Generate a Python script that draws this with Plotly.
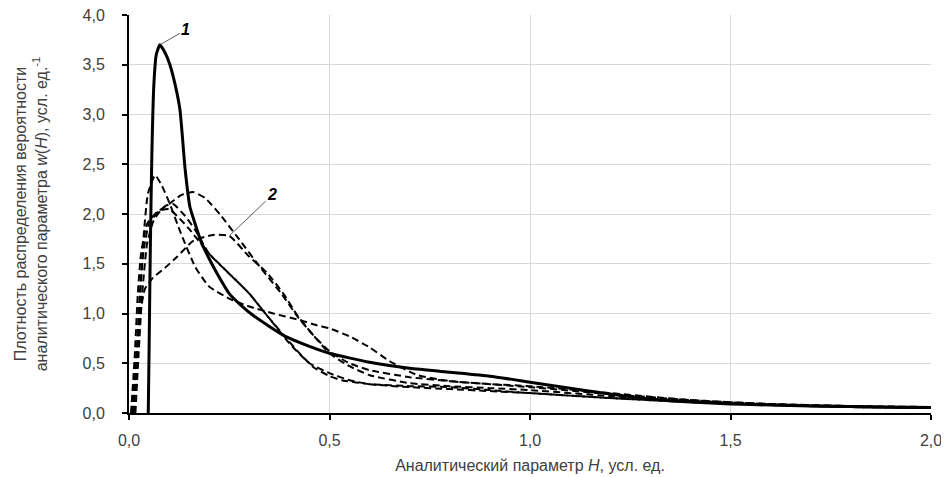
import plotly.graph_objects as go

# Solid curve 1
x1 = [0.048, 0.05, 0.053, 0.057, 0.062, 0.068, 0.077, 0.09, 0.102, 0.115, 0.127, 0.14, 0.152, 0.165, 0.18, 0.2, 0.22, 0.25, 0.28, 0.31, 0.35, 0.39, 0.45, 0.5, 0.6, 0.7, 0.8, 0.9, 1.0, 1.1, 1.2, 1.3, 1.4, 1.5, 1.6, 1.7, 1.8, 1.9, 2.0]
y1 = [0.0, 0.6, 1.6, 2.6, 3.3, 3.6, 3.70, 3.62, 3.5, 3.3, 3.05, 2.45, 2.07, 1.9, 1.72, 1.55, 1.40, 1.2, 1.08, 0.98, 0.87, 0.77, 0.67, 0.6, 0.51, 0.45, 0.41, 0.37, 0.31, 0.25, 0.19, 0.14, 0.11, 0.09, 0.08, 0.07, 0.065, 0.06, 0.055]

# Dashed curves (group 2)
xd1 = [0.012, 0.02, 0.028, 0.037, 0.047, 0.065, 0.08, 0.1, 0.13, 0.165, 0.2, 0.25, 0.3, 0.36, 0.42, 0.47, 0.5, 0.55, 0.6, 0.65, 0.72, 0.8, 0.9, 1.0, 1.2, 1.4, 1.6, 1.8, 2.0]
yd1 = [0.0, 0.55, 1.2, 1.8, 2.2, 2.39, 2.3, 2.12, 1.8, 1.47, 1.27, 1.15, 1.07, 1.0, 0.94, 0.88, 0.85, 0.77, 0.66, 0.52, 0.38, 0.32, 0.29, 0.26, 0.19, 0.13, 0.09, 0.07, 0.05]

xd2 = [0.005, 0.014, 0.022, 0.03, 0.045, 0.07, 0.1, 0.13, 0.16, 0.19, 0.23, 0.27, 0.33, 0.38, 0.42, 0.46, 0.5, 0.55, 0.6, 0.7, 0.8, 0.9, 1.0, 1.2, 1.4, 1.6, 1.8, 2.0]
yd2 = [0.0, 0.55, 1.2, 1.6, 1.9, 2.02, 2.1, 2.19, 2.22, 2.16, 1.98, 1.77, 1.45, 1.2, 0.97, 0.78, 0.62, 0.5, 0.43, 0.36, 0.32, 0.29, 0.27, 0.2, 0.13, 0.09, 0.07, 0.06]

xd3 = [0.008, 0.017, 0.028, 0.04, 0.06, 0.09, 0.12, 0.16, 0.21, 0.25, 0.3, 0.344, 0.385, 0.42, 0.46, 0.5, 0.55, 0.6, 0.7, 0.8, 0.9, 1.0, 1.2, 1.4, 1.6, 1.8, 2.0]
yd3 = [0.0, 0.5, 1.0, 1.25, 1.36, 1.46, 1.57, 1.73, 1.79, 1.78, 1.57, 1.41, 1.2, 0.98, 0.78, 0.6, 0.47, 0.38, 0.3, 0.27, 0.25, 0.23, 0.17, 0.12, 0.08, 0.06, 0.05]

xd4 = [0.016, 0.024, 0.033, 0.045, 0.06, 0.072, 0.09, 0.11, 0.14, 0.165, 0.2, 0.25, 0.3, 0.34, 0.37, 0.4, 0.45, 0.5, 0.55, 0.6, 0.7, 0.8, 0.9, 1.0, 1.2, 1.4, 1.6, 1.8, 2.0]
yd4 = [0.0, 0.6, 1.2, 1.7, 1.92, 2.0, 2.08, 2.1, 1.98, 1.84, 1.6, 1.4, 1.2, 1.0, 0.85, 0.7, 0.5, 0.4, 0.33, 0.29, 0.26, 0.24, 0.22, 0.2, 0.15, 0.11, 0.08, 0.06, 0.05]

xd5 = [0.01, 0.019, 0.027, 0.037, 0.05, 0.075, 0.1, 0.12, 0.15, 0.2, 0.25, 0.3, 0.34, 0.39, 0.43, 0.46, 0.5, 0.53, 0.6, 0.7, 0.8, 0.9, 1.0, 1.2, 1.4, 1.6, 1.8, 2.0]
yd5 = [0.0, 0.6, 1.2, 1.65, 1.9, 2.03, 2.05, 1.98, 1.85, 1.6, 1.4, 1.2, 1.0, 0.76, 0.58, 0.46, 0.37, 0.33, 0.29, 0.27, 0.26, 0.23, 0.2, 0.15, 0.11, 0.08, 0.06, 0.05]

dashed = [(xd1, yd1), (xd2, yd2), (xd3, yd3), (xd4, yd4), (xd5, yd5)]

x_ticks = [0.0, 0.5, 1.0, 1.5, 2.0]
y_ticks = [0.0, 0.5, 1.0, 1.5, 2.0, 2.5, 3.0, 3.5, 4.0]

FONT = "Liberation Sans, Arial, sans-serif"
TXT = "#404040"
fig = go.Figure()
for xs, ys in dashed:
    fig.add_trace(go.Scatter(x=xs, y=ys, mode="lines",
                             line=dict(color="black", width=2, dash="7px,4px", shape="spline", smoothing=0.5),
                             showlegend=False, hoverinfo="skip"))
fig.add_trace(go.Scatter(x=x1, y=y1, mode="lines",
                         line=dict(color="black", width=3, shape="spline", smoothing=0.5),
                         showlegend=False, hoverinfo="skip"))

# labels
ipk = y1.index(max(y1))
fig.add_annotation(x=x1[ipk], y=y1[ipk], text="<b><i>1</i></b>", showarrow=True,
                   arrowhead=0, arrowwidth=0.8, arrowcolor="#333", ax=26, ay=-15,
                   font=dict(family=FONT, size=16, color="black"), xanchor="center")
i3 = xd3.index(0.25)
fig.add_annotation(x=xd3[i3], y=yd3[i3], text="<b><i>2</i></b>", showarrow=True,
                   arrowhead=0, arrowwidth=0.8, arrowcolor="#333", ax=43, ay=-41,
                   font=dict(family=FONT, size=16, color="black"), xanchor="center")

# page body has an 8px default margin, so the figure is sized/offset to compensate
fig.update_layout(
    width=941, height=469,
    margin=dict(l=121, r=18, t=7, b=64),
    paper_bgcolor="white", plot_bgcolor="white",
    separators=", ",
    font=dict(family=FONT, size=16, color=TXT),
    xaxis=dict(range=[0, 2], tickvals=x_ticks, tickformat=".1f", automargin=False,
               showgrid=True, gridcolor="#d9d9d9", gridwidth=1,
               showline=True, linecolor="black", linewidth=2,
               ticks="outside", ticklen=5, tickcolor="black", tickwidth=1.5,
               zeroline=False, ticklabelstandoff=7, ticklabeloverflow="allow",
               title=dict(text="Аналитический параметр <i>H</i>, усл. ед.", standoff=12,
                          font=dict(family=FONT, size=16, color=TXT))),
    yaxis=dict(range=[0, 4], tickvals=y_ticks, tickformat=".1f", automargin=False,
               showgrid=True, gridcolor="#d9d9d9", gridwidth=1,
               showline=True, linecolor="black", linewidth=2,
               ticks="outside", ticklen=5, tickcolor="black", tickwidth=1.5,
               zeroline=False, ticklabelstandoff=14, ticklabeloverflow="allow",
               title=dict(text="Плотность распределения вероятности<br>аналитического параметра <i>w</i>(<i>H</i>), усл. ед.<sup>-1</sup>",
                          standoff=31, font=dict(family=FONT, size=16, color=TXT))),
)

fig.write_html("out.html")
